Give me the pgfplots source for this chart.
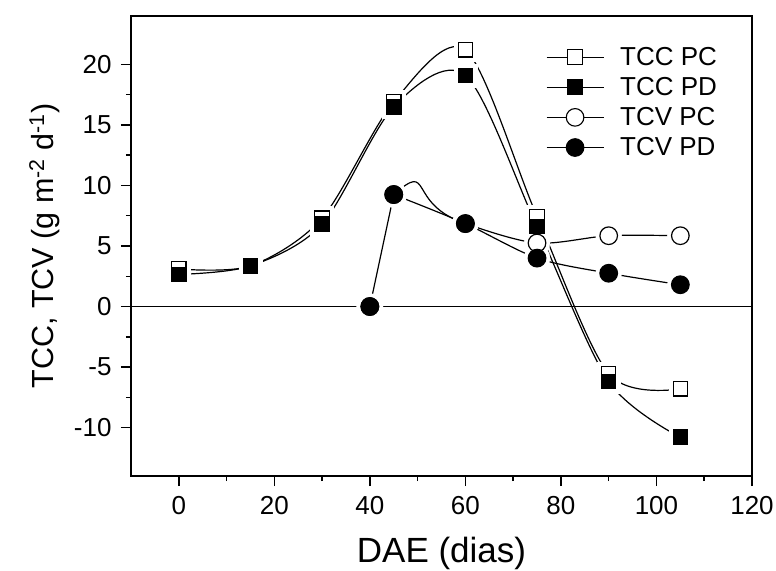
\documentclass[border=0pt]{standalone}
\usepackage{fontspec}
\setmainfont{Liberation Sans}
\usepackage{pgfplots}
\usepackage{pgfplotstable}
\pgfplotsset{compat=1.18}

% Growth rates (g m^-2 d^-1) against days after emergence
\pgfplotstableread{
x y
0   3.1
15  3.35
30  7.3
45  16.9
60  21.2
75  7.45
90  -5.55
105 -6.8
}\tccpc
\pgfplotstableread{
x y
0   2.65
15  3.35
30  6.8
45  16.5
60  19.1
75  6.6
90  -6.2
105 -10.8
}\tccpd
\pgfplotstableread{
x y
40  0
45  9.25
60  6.85
75  5.25
90  5.85
105 5.85
}\tcvpc
\pgfplotstableread{
x y
40  0
45  9.25
60  6.85
75  4.0
90  2.75
105 1.8
}\tcvpd

\begin{document}
\begin{tikzpicture}
\path[use as bounding box] (-131bp,-95bp) rectangle (645bp,476bp);
\begin{axis}[
  scale only axis, width=621bp, height=460bp,
  xmin=-10, xmax=120, ymin=-14, ymax=24,
  xtick={0,20,...,120}, ytick={-10,-5,...,20},
  minor x tick num=1, minor y tick num=1,
  tick pos=left, tick align=outside,
  major tick length=10bp, minor tick length=5bp,
  tick style={black, line width=1.5bp},
  axis line style={line width=2bp},
  axis on top,
  ticklabel style={font=\fontsize{26bp}{30bp}\selectfont},
  xticklabel style={yshift=-7bp},
  yticklabel style={xshift=-6bp},
  /pgf/number format/assume math mode=true,
  xlabel={DAE (dias)},
  ylabel={TCC, TCV (g m\textsuperscript{-2} d\textsuperscript{-1})},
  xlabel style={font=\fontsize{35bp}{40bp}\selectfont, at={(axis description cs:0.5,-0.1891)}, anchor=base},
  ylabel style={font=\fontsize{30.5bp}{35bp}\selectfont, at={(axis description cs:-0.1256,0.5)}, anchor=base},
  legend style={draw=none, fill=none, at={(axis description cs:0.668,0.9325)}, anchor=north west,
    inner sep=0pt, row sep=10.5bp, column sep=16bp,
    font=\fontsize{26bp}{30bp}\selectfont, nodes={inner sep=0pt}},
  legend cell align=left,
  legend image code/.code={\draw[mark repeat=2,mark phase=2,#1] plot coordinates {(0bp,0bp) (28.5bp,0bp) (57bp,0bp)};},
]
% connecting curves
\addplot[black, line width=1.2bp, smooth, no marks, forget plot] table {\tccpc};
\addplot[black, line width=1.2bp, smooth, no marks, forget plot] table {\tccpd};
\begin{scope}
\clip (axis cs:45,-14) rectangle (axis cs:60,24);
\addplot[black, line width=1.2bp, smooth, tension=1.5, no marks, forget plot] table {\tcvpc};
\end{scope}
\begin{scope}
\clip (axis cs:60,-14) rectangle (axis cs:120,24);
\addplot[black, line width=1.2bp, smooth, no marks, forget plot] table {\tcvpc};
\end{scope}
\addplot[black, line width=1.2bp, sharp plot, no marks, forget plot, skip coords between index={2}{6}] table {\tcvpd};
\addplot[black, line width=1.2bp, smooth, no marks, forget plot, skip coords between index={0}{1}] table {\tcvpd};
% white gaps round the symbols
\addplot[white, only marks, mark=square*, mark size=11.5bp, forget plot] table {\tccpc};
\addplot[white, only marks, mark=square*, mark size=11.5bp, forget plot] table {\tccpd};
\addplot[white, only marks, mark=*, mark size=13bp, forget plot] table {\tcvpc};
\addplot[white, only marks, mark=*, mark size=13bp, forget plot] table {\tcvpd};
% zero reference line
\addplot[black, line width=1.8bp, no marks, forget plot] coordinates {(-10,0) (120,0)};
% symbols
\addplot[only marks, mark=square*, mark size=7.2bp, mark options={draw=black, fill=white, line width=1.2bp}, forget plot] table {\tccpc};
\addplot[only marks, mark=square*, mark size=7.2bp, mark options={draw=black, fill=black, line width=1.2bp}, forget plot] table {\tccpd};
\addplot[only marks, mark=*, mark size=8.8bp, mark options={draw=black, fill=white, line width=1.2bp}, forget plot] table {\tcvpc};
\addplot[only marks, mark=*, mark size=8.8bp, mark options={draw=black, fill=black, line width=1.2bp}, forget plot] table {\tcvpd};
% legend
\addlegendimage{black, line width=1.1bp, mark=square*, mark size=7.2bp, mark options={fill=white}}
\addlegendentry{TCC PC}
\addlegendimage{black, line width=1.1bp, mark=square*, mark size=7.2bp, mark options={fill=black}}
\addlegendentry{TCC PD}
\addlegendimage{black, line width=1.1bp, mark=*, mark size=8.8bp, mark options={fill=white}}
\addlegendentry{TCV PC}
\addlegendimage{black, line width=1.1bp, mark=*, mark size=8.8bp, mark options={fill=black}}
\addlegendentry{TCV PD}
\end{axis}
\end{tikzpicture}
\end{document}
